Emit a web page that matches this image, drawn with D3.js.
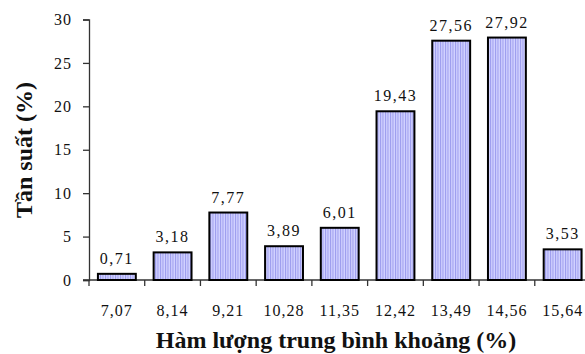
<!DOCTYPE html>
<html>
<head>
<meta charset="utf-8">
<script src="https://cdn.jsdelivr.net/npm/d3@7"></script>
<style>
  html, body { margin: 0; padding: 0; background: #fff; }
  svg { display: block; }
  text { font-family: "Liberation Serif", "Times New Roman", serif; fill: #111; }
</style>
</head>
<body>
<svg id="chart" width="585" height="354"></svg>
<script>
// Mean content intervals (%) and their frequencies (%)
const categories = ["7,07", "8,14", "9,21", "10,28", "11,35", "12,42", "13,49", "14,56", "15,64"];
const frequencies = [0.71, 3.18, 7.77, 3.89, 6.01, 19.43, 27.56, 27.92, 3.53];
const valueLabels = ["0,71", "3,18", "7,77", "3,89", "6,01", "19,43", "27,56", "27,92", "3,53"];
const yTicks = [0, 5, 10, 15, 20, 25, 30];

const svg = d3.select("#chart");

const x = d3.scaleBand()
  .domain(categories)
  .range([89, 590.5])
  .paddingInner(0.32)
  .paddingOuter(0.16);

const y = d3.scaleLinear()
  .domain([0, 30])
  .range([280, 19.5]);

// Vertical hatching used to fill the bars
const defs = svg.append("defs");
const pat = defs.append("pattern")
  .attr("id", "stripes")
  .attr("patternUnits", "userSpaceOnUse")
  .attr("width", 2.5)
  .attr("height", 10);
pat.append("rect").attr("width", 2.5).attr("height", 10).attr("fill", "#d2d2ff");
pat.append("rect").attr("width", 1).attr("height", 10).attr("fill", "#9a9aee");

// Y axis
const yAxis = svg.append("g")
  .attr("transform", "translate(89,0)")
  .call(d3.axisLeft(y).tickValues(yTicks).tickSize(6).tickPadding(11).tickFormat(d3.format("d")));
yAxis.attr("font-family", null);
yAxis.select(".domain").attr("stroke", "#333").attr("stroke-width", 1.3);
yAxis.selectAll(".tick line").attr("stroke", "#333").attr("stroke-width", 1.3);
yAxis.selectAll(".tick text")
  .style("font-family", "'Liberation Serif', serif")
  .style("font-size", "16px")
  .style("letter-spacing", "1px")
  .attr("fill", "#111");

// X axis: ticks at category boundaries
const step = x.step();
const x0 = x.range()[0];
const boundaries = d3.range(categories.length).map(i => x0 + i * step);
const xg = svg.append("g");
xg.append("line")
  .attr("x1", 83).attr("x2", 590.5)
  .attr("y1", y(0)).attr("y2", y(0))
  .attr("stroke", "#333").attr("stroke-width", 1.3);
xg.selectAll("line.tk")
  .data(boundaries)
  .join("line")
  .attr("class", "tk")
  .attr("x1", d => d).attr("x2", d => d)
  .attr("y1", y(0)).attr("y2", y(0) + 6)
  .attr("stroke", "#333").attr("stroke-width", 1.3);
xg.selectAll("text")
  .data(categories)
  .join("text")
  .attr("x", d => x(d) + x.bandwidth() / 2)
  .attr("y", 316)
  .attr("text-anchor", "middle")
  .style("font-size", "16px")
  .style("letter-spacing", "1px")
  .text(d => d);

// Bars
svg.append("g")
  .selectAll("rect")
  .data(frequencies)
  .join("rect")
  .attr("x", (d, i) => x(categories[i]))
  .attr("y", d => y(d))
  .attr("width", x.bandwidth())
  .attr("height", d => y(0) - y(d))
  .attr("fill", "url(#stripes)")
  .attr("stroke", "#000")
  .attr("stroke-width", 2);

// Value labels above bars
svg.append("g")
  .selectAll("text")
  .data(frequencies)
  .join("text")
  .attr("x", (d, i) => x(categories[i]) + x.bandwidth() / 2)
  .attr("y", d => y(d) - 10)
  .attr("text-anchor", "middle")
  .style("font-size", "16px")
  .style("letter-spacing", "1.5px")
  .text((d, i) => valueLabels[i]);

// Axis titles
svg.append("text")
  .attr("transform", "translate(32,150) rotate(-90)")
  .attr("text-anchor", "middle")
  .style("font-size", "24px")
  .style("font-weight", "bold")
  .text("Tần suất (%)");

svg.append("text")
  .attr("x", 336)
  .attr("y", 348)
  .attr("text-anchor", "middle")
  .style("font-size", "24px")
  .style("font-weight", "bold")
  .text("Hàm lượng trung bình khoảng (%)");
</script>
</body>
</html>
